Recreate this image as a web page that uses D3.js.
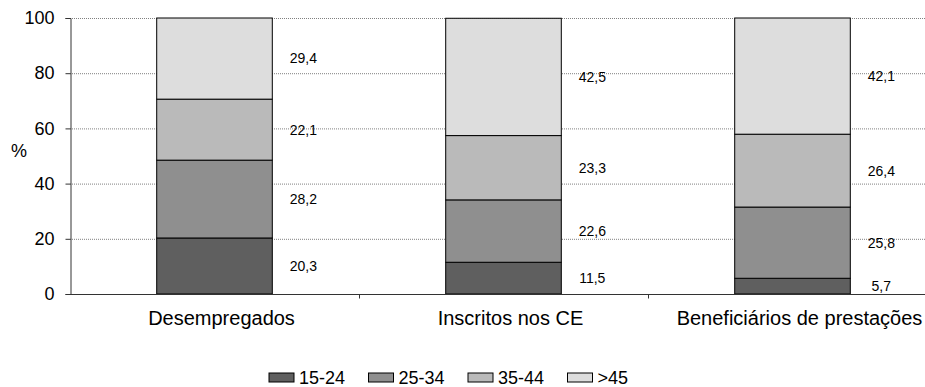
<!DOCTYPE html>
<html>
<head>
<meta charset="utf-8">
<script src="https://cdn.jsdelivr.net/npm/d3@7"></script>
<style>
  body { margin: 0; background: #fff; }
  text { font-family: "Liberation Sans", Arial, sans-serif; fill: #000; }
</style>
</head>
<body>
<div id="container"></div>
<script>
const canvasWidth = 925;
const canvasHeight = 387;

// data
let categories = ['Desempregados', 'Inscritos nos CE', 'Beneficiários de prestações'];
let ageGroups = ['15-24', '25-34', '35-44', '>45'];
let v1524 = [20.3, 11.5, 5.7];
let v2534 = [28.2, 22.6, 25.8];
let v3544 = [22.1, 23.3, 26.4];
let v45 = [29.4, 42.5, 42.1];
let yTicks = [0, 20, 40, 60, 80, 100];

//age colour
let ac = {
  '15-24': '#5f5f5f',
  '25-34': '#8f8f8f',
  '35-44': '#bababa',
  '>45': '#dddddd'
};

let rows = categories.map(function(c, i){
  return {cat: c, '15-24': v1524[i], '25-34': v2534[i], '35-44': v3544[i], '>45': v45[i]};
});

let plotLeft = 70, plotTop = 18, plotBottom = 294;

let svg = d3.select('#container')
  .append('svg')
  .attr('width', canvasWidth)
  .attr('height', canvasHeight);

let xScale = d3.scaleBand().domain(categories).range([plotLeft, 937]).paddingInner(0).paddingOuter(0);
let yScale = d3.scaleLinear().domain([0, 100]).range([plotBottom, plotTop]);
let barW = xScale.bandwidth() * 0.4;

// grid
svg.append('g').selectAll('line').data(yTicks.filter(d => d > 0)).enter()
  .append('line')
  .attr('x1', plotLeft).attr('x2', canvasWidth)
  .attr('y1', d => yScale(d) + 0.5).attr('y2', d => yScale(d) + 0.5)
  .attr('stroke', '#808080')
  .attr('stroke-width', 1)
  .attr('stroke-dasharray', '1,1');

// bars
let stack = d3.stack().keys(ageGroups)(rows);

let layers = svg.selectAll('.layer').data(stack).enter()
  .append('g')
  .attr('class', 'layer')
  .attr('fill', d => ac[d.key]);

layers.selectAll('rect').data(d => d).enter()
  .append('rect')
  .attr('x', d => xScale(d.data.cat) + (xScale.bandwidth() - barW) / 2)
  .attr('y', d => yScale(d[1]))
  .attr('width', barW)
  .attr('height', d => yScale(d[0]) - yScale(d[1]))
  .attr('stroke', '#000')
  .attr('stroke-width', 1);

// value labels
layers.selectAll('text').data(d => d.map(p => ({p: p, key: d.key}))).enter()
  .append('text')
  .attr('x', d => xScale(d.p.data.cat) + (xScale.bandwidth() + barW) / 2 + 31)
  .attr('y', d => yScale((d.p[0] + d.p[1]) / 2))
  .attr('dy', '0.35em')
  .attr('text-anchor', 'middle')
  .style('font-size', '14px')
  .style('fill', '#000')
  .text(d => d3.format('.1f')(d.p.data[d.key]).replace('.', ','));

// y axis
let yAxis = svg.append('g')
  .attr('transform', 'translate(' + (plotLeft + 0.5) + ',0)')
  .call(d3.axisLeft(yScale).tickValues(yTicks).tickSize(5).tickPadding(11).tickFormat(d3.format('d')));
yAxis.select('.domain').attr('stroke', '#333');
yAxis.selectAll('.tick line').attr('stroke', '#333');
yAxis.selectAll('text').style('font-size', '18px').style('font-family', '"Liberation Sans", Arial, sans-serif');

// x axis
let xAxis = svg.append('g')
  .attr('transform', 'translate(0,' + (plotBottom + 0.5) + ')');
xAxis.append('line')
  .attr('x1', plotLeft).attr('x2', canvasWidth)
  .attr('stroke', '#333');
xAxis.selectAll('.xt').data(categories.slice(1)).enter()
  .append('line')
  .attr('class', 'xt')
  .attr('x1', d => xScale(d) + 0.5).attr('x2', d => xScale(d) + 0.5)
  .attr('y1', 0).attr('y2', 4)
  .attr('stroke', '#333');
xAxis.selectAll('text').data(categories).enter()
  .append('text')
  .attr('x', d => xScale(d) + xScale.bandwidth() / 2 + 7)
  .attr('y', 30)
  .attr('text-anchor', 'middle')
  .style('font-size', '20px')
  .text(d => d);

svg.append('text')
  .attr('x', 19)
  .attr('y', 157)
  .attr('text-anchor', 'middle')
  .style('font-size', '18px')
  .text('%');

// legend
let legend = svg.selectAll('.legend').data(ageGroups).enter()
  .append('g')
  .attr('class', 'legend')
  .attr('transform', (d, i) => 'translate(' + (269 + i * 99.5) + ',373)');
legend.append('rect')
  .attr('width', 25).attr('height', 9)
  .attr('fill', d => ac[d])
  .attr('stroke', '#000');
legend.append('text')
  .attr('x', 30).attr('y', 4.5)
  .attr('dy', '0.35em')
  .style('font-size', '18px')
  .text(d => d);
</script>
</body>
</html>
